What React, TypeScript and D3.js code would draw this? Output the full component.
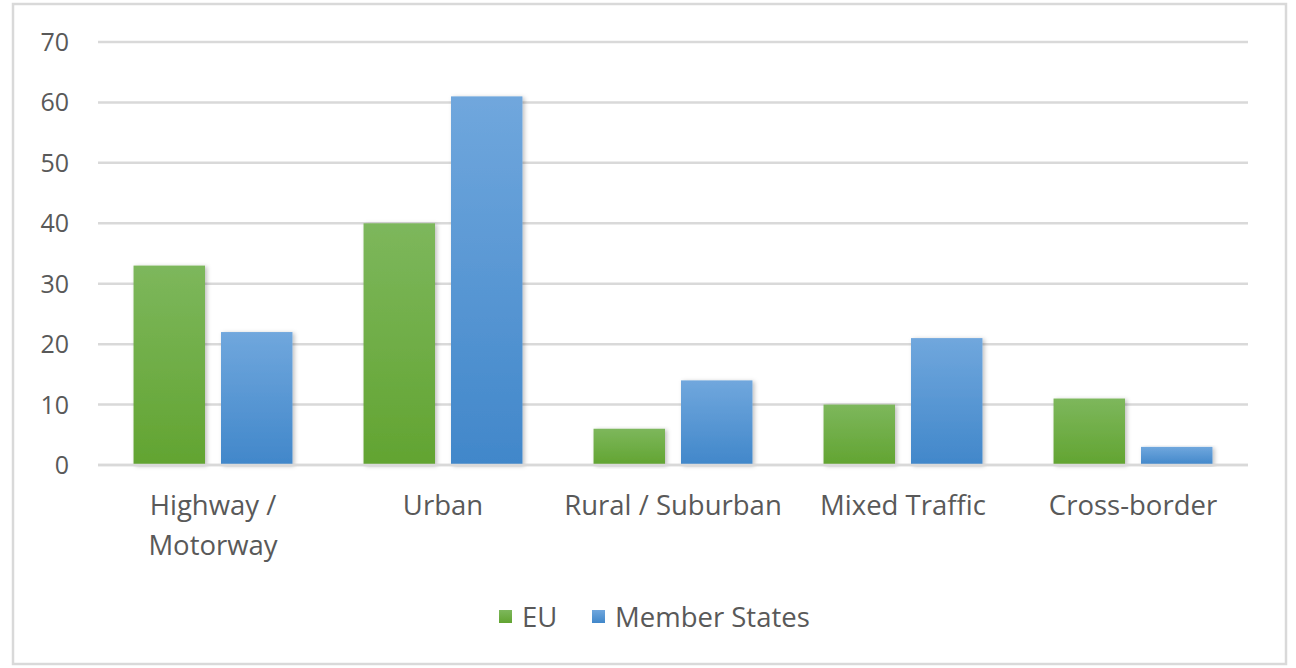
import React from "react";
import * as d3 from "d3";

const categories = ["Highway / Motorway", "Urban", "Rural / Suburban", "Mixed Traffic", "Cross-border"];
const categoryLines = [["Highway /", "Motorway"], ["Urban"], ["Rural / Suburban"], ["Mixed Traffic"], ["Cross-border"]];
const seriesNames = ["EU", "Member States"];
const euValues = [33, 40, 6, 10, 11];
const msValues = [22, 61, 14, 21, 3];
const yTicks = [0, 10, 20, 30, 40, 50, 60, 70];

const W = 1296, H = 668;
const left = 98, right = 1248, top = 42, bottom = 465;
const font = "'Open Sans', sans-serif";
const textColor = "#595959";

export default function App() {
  const x0 = d3.scaleBand<string>().domain(categories).range([left, right]).paddingInner(0.309).paddingOuter(0.1545);
  const x1 = d3.scaleBand<string>().domain(seriesNames).range([0, x0.bandwidth()]).paddingInner(0.183);
  const y = d3.scaleLinear().domain([0, 70]).range([bottom, top]);
  const series = [euValues, msValues];
  const fills = ["url(#gGreen)", "url(#gBlue)"];
  return (
    <svg width={W} height={H} style={{ position: "absolute", left: 0, top: 0 }}>
      <defs>
        <linearGradient id="gGreen" x1="0" y1="0" x2="0" y2="1">
          <stop offset="0" stopColor="#7db75c" />
          <stop offset="1" stopColor="#62a431" />
        </linearGradient>
        <linearGradient id="gBlue" x1="0" y1="0" x2="0" y2="1">
          <stop offset="0" stopColor="#70a7dd" />
          <stop offset="1" stopColor="#4187ca" />
        </linearGradient>
        <filter id="sh" x="-20%" y="-5%" width="140%" height="115%">
          <feDropShadow dx="2" dy="1" stdDeviation="2" floodColor="#000" floodOpacity="0.25" />
        </filter>
      </defs>
      <rect x={0} y={0} width={W} height={H} fill="#fff" />
      <rect x={13} y={4} width={1273} height={660} fill="#fff" stroke="#d9d9d9" strokeWidth={2.5} />
      {yTicks.map((t) => (
        <g key={t}>
          <line x1={left} x2={right} y1={y(t)} y2={y(t)} stroke="#d9d9d9" strokeWidth={2.5} />
          <text x={69} y={y(t)} dy="0.36em" textAnchor="end" fontFamily={font} fontSize={25} fill={textColor}>{t}</text>
        </g>
      ))}
      {categories.map((c, i) => (
        <g key={c}>
          {series.map((vals, s) => (
            <rect key={s} x={(x0(c) as number) + (x1(seriesNames[s]) as number)} y={y(vals[i])}
              width={x1.bandwidth()} height={y(0) - y(vals[i])} fill={fills[s]} filter="url(#sh)" />
          ))}
          {categoryLines[i].map((ln, k) => (
            <text key={k} x={(x0(c) as number) + x0.bandwidth() / 2} y={515 + k * 40} textAnchor="middle"
              fontFamily={font} fontSize={27.5} fill={textColor}>{ln}</text>
          ))}
        </g>
      ))}
      {seriesNames.map((n, s) => {
        const lx = [499, 592][s];
        return (
          <g key={n}>
            <rect x={lx} y={610} width={13} height={13} fill={fills[s]} />
            <text x={lx + 23} y={617} dy="0.36em" fontFamily={font} fontSize={27.5} fill={textColor}>{n}</text>
          </g>
        );
      })}
      <line x1={left} x2={right} y1={y(0)} y2={y(0)} stroke="#d9d9d9" strokeWidth={2.5} />
    </svg>
  );
}
